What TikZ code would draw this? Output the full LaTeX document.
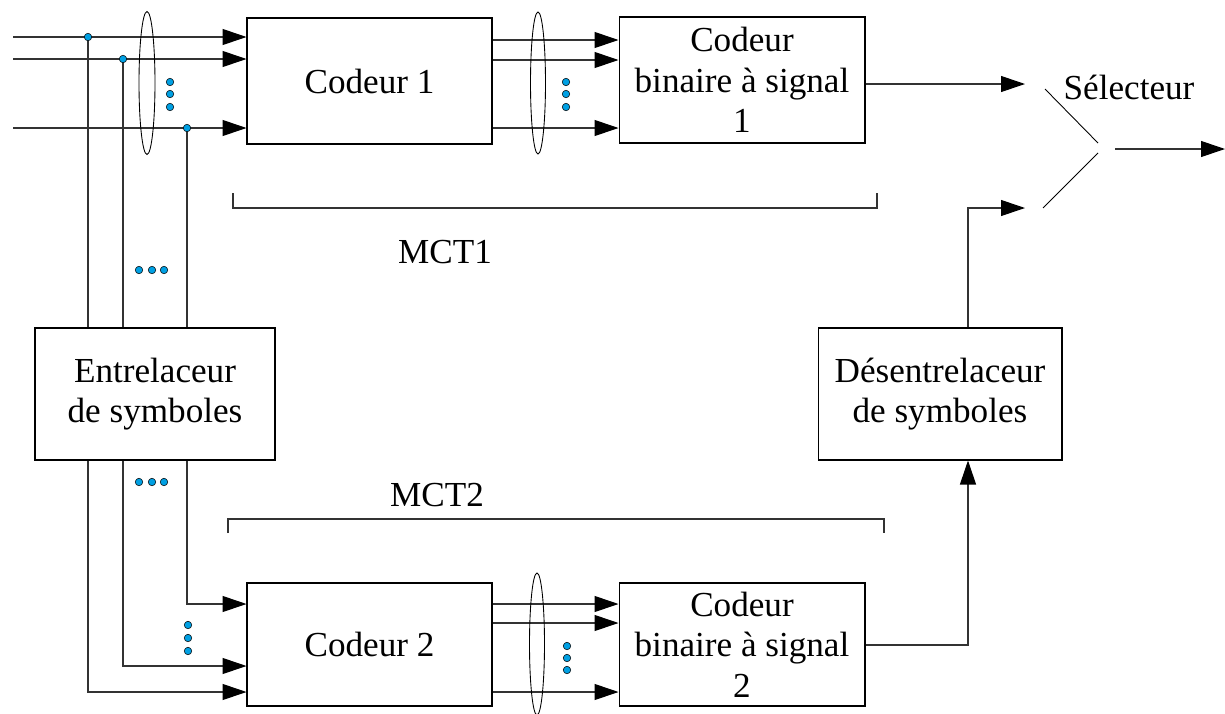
\documentclass[tikz,border=0pt]{standalone}
\usepackage{fontspec}
\setmainfont{Liberation Serif}
\usepackage{xcolor}
\usetikzlibrary{arrows.meta, positioning, calc}
\definecolor{dotblue}{RGB}{0,160,227}

\begin{document}
\begin{tikzpicture}[
    x=0.02cm, y=-0.02cm,
    every node/.style={font=\fontsize{20}{23}\selectfont},
    block/.style={rectangle, draw, line width=0.6pt, minimum width=4.9cm,
                  minimum height=2.52cm, align=center, inner sep=0pt},
    wire/.style={line width=0.6pt, draw=black!80},
    arrow/.style={wire, -{Triangle[length=4.8mm, width=3.2mm, color=black]}},
    dot/.style={circle, draw, fill=dotblue, inner sep=0pt, minimum size=1.5mm, line width=0.3pt},
    bundle/.style={line width=0.5pt},
    label/.style={inner sep=0pt},
]
\useasboundingbox (0,0) rectangle (1225,714);

% Blocks
\node[block] (cod1) at (369.5,81) {Codeur 1};
\node[block, minimum width=4.92cm] (cb1) at (742,80) {Codeur\\binaire à signal\\1};
\node[block, minimum width=4.8cm, minimum height=2.64cm] (ent) at (155,394) {Entrelaceur\\de symboles};
\node[block, minimum width=4.88cm, minimum height=2.64cm] (des) at (940,394) {Désentrelaceur\\de symboles};
\node[block, minimum height=2.46cm] (cod2) at (369.5,644.5) {Codeur 2};
\node[block, minimum width=4.92cm, minimum height=2.46cm] (cb2) at (742,644.5) {Codeur\\binaire à signal\\2};

% Input rows and taps
\coordinate (in1) at (13,37);
\coordinate (in2) at (13,59);
\coordinate (in3) at (13,128);
\coordinate (t1) at (88,37);
\coordinate (t2) at (123,59);
\coordinate (t3) at (187,128);

% Inputs of Codeur 1
\draw[arrow] (in1) -- (cod1.west |- in1);
\draw[arrow] (in2) -- (cod1.west |- in2);
\draw[arrow] (in3) -- (cod1.west |- in3);

% Taps down to the interleaver
\draw[wire] (t1) -- (t1 |- ent.north);
\draw[wire] (t2) -- (t2 |- ent.north);
\draw[wire] (t3) -- (t3 |- ent.north);

% Interleaver to Codeur 2
\draw[arrow] (ent.south -| t1) |- (cod2.west |- 0,692);
\draw[arrow] (ent.south -| t2) |- (cod2.west |- 0,666);
\draw[arrow] (ent.south -| t3) |- (cod2.west |- 0,604);

% Codeur 1 to binary coder 1
\draw[arrow] (cod1.east |- 0,40) -- (cb1.west |- 0,40);
\draw[arrow] (cod1.east |- 0,60) -- (cb1.west |- 0,60);
\draw[arrow] (cod1.east |- 0,128) -- (cb1.west |- 0,128);

% Codeur 2 to binary coder 2
\draw[arrow] (cod2.east |- 0,604) -- (cb2.west |- 0,604);
\draw[arrow] (cod2.east |- 0,623) -- (cb2.west |- 0,623);
\draw[arrow] (cod2.east |- 0,692) -- (cb2.west |- 0,692);

% Bundles
\draw[bundle] (147,83) ellipse [x radius=0.16cm, y radius=1.43cm];
\draw[bundle] (538,83) ellipse [x radius=0.15cm, y radius=1.42cm];
\draw[bundle] (537,644) ellipse [x radius=0.15cm, y radius=1.42cm];

% Selector
\coordinate (sa) at (1025,84);
\coordinate (sb) at (1025,208);
\coordinate (su) at (1045,89);
\coordinate (sl) at (1043,208);
\coordinate (sm) at (1098,148);
\coordinate (out) at (1225,149);
\draw[arrow] (cb1.east |- sa) -- (sa);
\draw[arrow] (des.north -| 968,0) |- (sb);
\draw[arrow] (cb2.east |- 0,645) -| (des.south -| 968,0);
\draw[line width=0.5pt] (su) -- ($(sm)+(0,-5)$);
\draw[line width=0.5pt] (sl) -- ($(sm)+(0,5)$);
\draw[arrow] (1115,149) -- (out);
\node[label] (sel) at (1129,87) {Sélecteur};

% MCT brackets
\draw[wire] (233,193) -- (233,208) -- (877,208) -- (877,193);
\node[label] (mct1) at (445,252) {MCT1};
\draw[wire] (228,533) -- (228,519) -- (884,519) -- (884,533);
\node[label] (mct2) at (437,495) {MCT2};

% Junction dots
\node[dot] (j1) at (t1) {};
\node[dot] (j2) at (t2) {};
\node[dot] (j3) at (t3) {};

% Ellipsis dots
\foreach \y [count=\i] in {82,94,107} {
  \node[dot] (va\i) at (170,\y) {};
  \node[dot] (vb\i) at (566,\y) {};
}
\foreach \y [count=\i] in {646,658,670} {
  \node[dot] (vc\i) at (567,\y) {};
}
\foreach \y [count=\i] in {625,638,651} {
  \node[dot] (vd\i) at (188,\y) {};
}
\foreach \x [count=\i] in {139,152,164} {
  \node[dot] (ha\i) at (\x,270) {};
  \node[dot] (hb\i) at (\x,482) {};
}
\end{tikzpicture}
\end{document}
